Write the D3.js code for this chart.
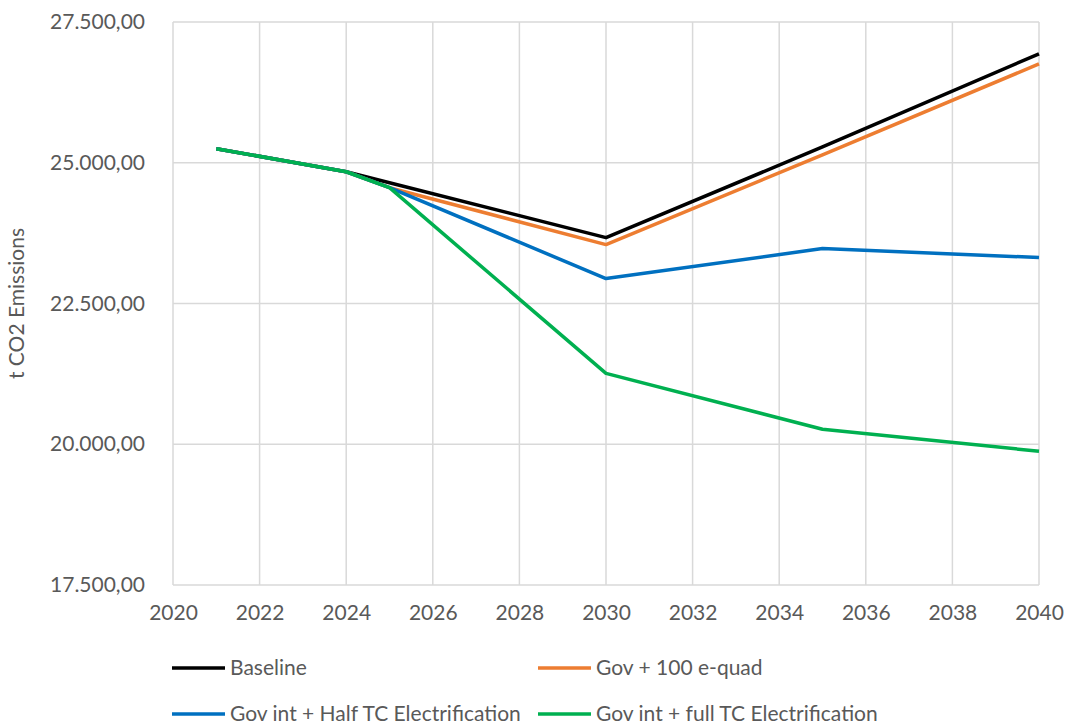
<!DOCTYPE html>
<html>
<head>
<meta charset="utf-8">
<script src="https://cdn.jsdelivr.net/npm/d3@7"></script>
<style>
  body { margin: 0; background: #fff; }
  text { font-family: Lato, "Open Sans", sans-serif; fill: #595959; }
</style>
</head>
<body>
<div id="chart"></div>
<script>
// years and series values (t CO2)
var years     = [2021, 2024, 2025, 2030, 2035, 2040];
var baseline  = [25250, 24840, 24645, 23670, 25280, 26935];
var eQuad     = [25250, 24840, 24557, 23546, 25140, 26755];
var halfTC    = [25250, 24840, 24557, 22943, 23475, 23316];
var fullTC    = [25250, 24840, 24557, 21259, 20266, 19876];

var seriesNames  = ["Baseline", "Gov + 100 e-quad", "Gov int + Half TC Electrification", "Gov int + full TC Electrification"];
var seriesValues = [baseline, eQuad, halfTC, fullTC];
var seriesColors = ["#000000", "#ED7D31", "#0070C0", "#00B050"];

var xTicks = [2020, 2022, 2024, 2026, 2028, 2030, 2032, 2034, 2036, 2038, 2040];
var yTicks = [17500, 20000, 22500, 25000, 27500];

var W = 1068, H = 725;
var margin = {top: 22, right: 29, bottom: 140, left: 173};
var width = W - margin.left - margin.right,
    height = H - margin.top - margin.bottom;
var fs = "21px";

var locale = d3.formatLocale({decimal: ",", thousands: ".", grouping: [3], currency: ["", ""]});
var fmt = locale.format(",.2f");

var x = d3.scaleLinear().domain([2020, 2040]).range([0, width]);
var y = d3.scaleLinear().domain([17500, 27500]).range([height, 0]);

var svg = d3.select("#chart").append("svg")
    .attr("width", W).attr("height", H)
  .append("g")
    .attr("transform", "translate(" + margin.left + "," + margin.top + ")");

// gridlines
svg.append("g").selectAll("line").data(yTicks).enter().append("line")
    .attr("x1", 0).attr("x2", width)
    .attr("y1", function(d) { return y(d); }).attr("y2", function(d) { return y(d); })
    .attr("stroke", "#d9d9d9").attr("stroke-width", 1.5);
svg.append("g").selectAll("line").data(xTicks).enter().append("line")
    .attr("y1", 0).attr("y2", height)
    .attr("x1", function(d) { return x(d); }).attr("x2", function(d) { return x(d); })
    .attr("stroke", "#d9d9d9").attr("stroke-width", 1.5);

// axes
var xAxis = d3.axisBottom(x).tickValues(xTicks).tickFormat(d3.format("d")).tickSize(0).tickPadding(20);
var yAxis = d3.axisLeft(y).tickValues(yTicks).tickFormat(fmt).tickSize(0).tickPadding(28);

svg.append("g").attr("transform", "translate(0," + height + ")").call(xAxis)
  .call(function(g) { g.select(".domain").remove(); })
  .selectAll("text").style("font-size", fs).attr("fill", "#595959");
svg.append("g").call(yAxis)
  .call(function(g) { g.select(".domain").remove(); })
  .selectAll("text").style("font-size", fs).attr("fill", "#595959");

svg.append("text")
    .attr("transform", "translate(" + (-149) + "," + (height / 2) + ") rotate(-90)")
    .attr("text-anchor", "middle")
    .style("font-size", fs)
    .text("t CO2 Emissions");

// lines
var line = d3.line()
    .x(function(d, i) { return x(years[i]); })
    .y(function(d) { return y(d); });

seriesValues.forEach(function(vals, i) {
  svg.append("path")
    .attr("d", line(vals))
    .attr("fill", "none")
    .attr("stroke", seriesColors[i])
    .attr("stroke-width", 3.5)
    .attr("stroke-linejoin", "round");
});

// legend
var legX = [172, 538], legY = [668, 714];
seriesNames.forEach(function(name, i) {
  var lx = legX[i % 2] - margin.left, ly = legY[Math.floor(i / 2)] - margin.top;
  svg.append("line")
    .attr("x1", lx).attr("x2", lx + 53).attr("y1", ly).attr("y2", ly)
    .attr("stroke", seriesColors[i]).attr("stroke-width", 3.5);
  svg.append("text")
    .attr("x", lx + 58).attr("y", ly).attr("dy", "0.35em")
    .style("font-size", fs)
    .text(name);
});
</script>
</body>
</html>
